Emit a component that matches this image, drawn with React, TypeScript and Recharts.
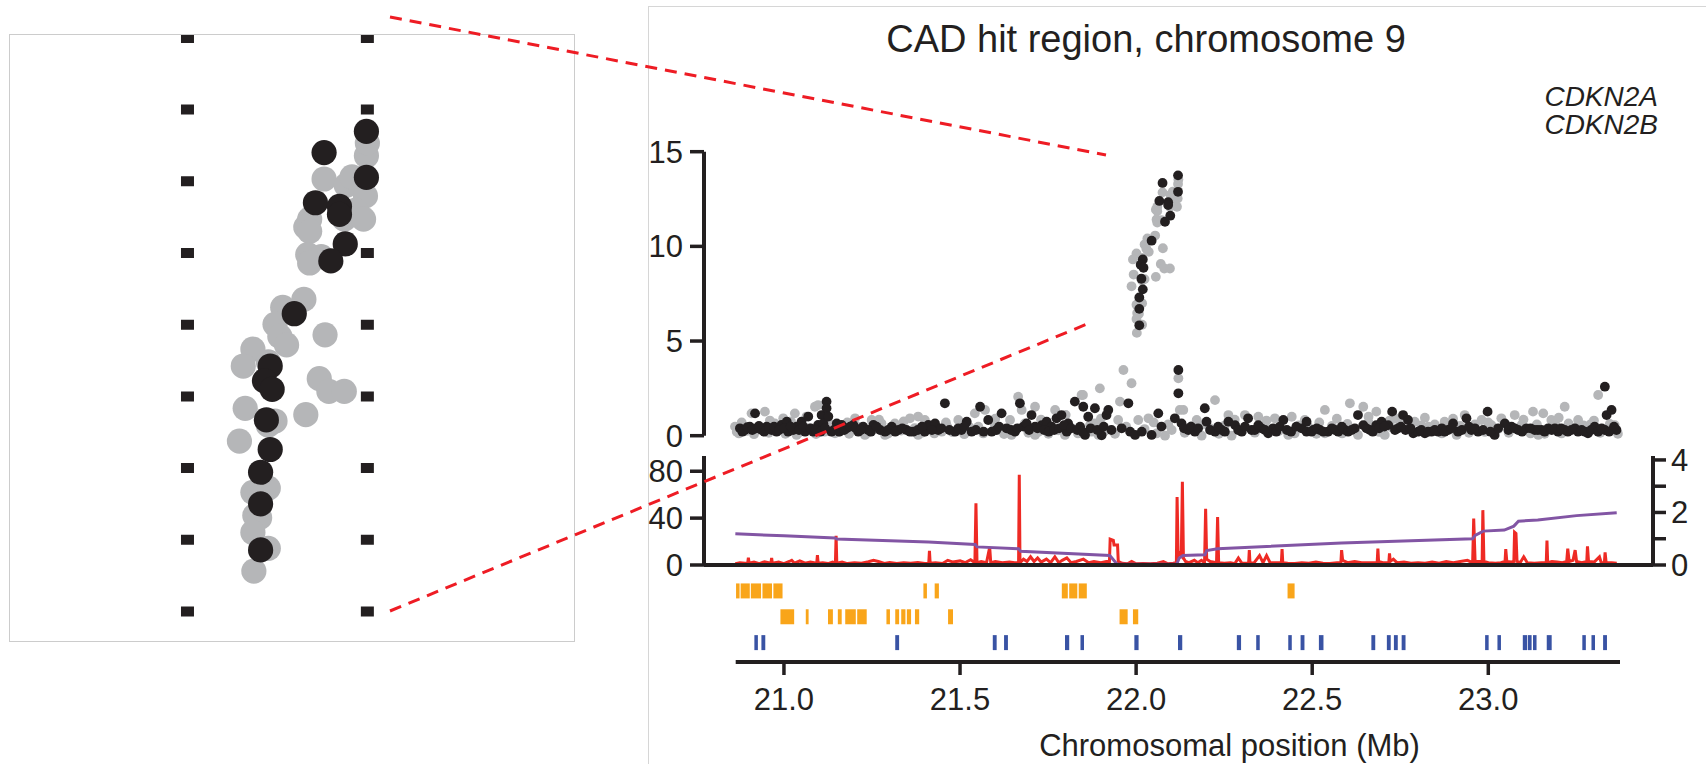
import {
  ScatterChart,
  ComposedChart,
  Scatter,
  Line,
  XAxis,
  YAxis,
  ReferenceLine,
  ReferenceArea,
} from 'recharts';

const PAGE_W = 1706;
const PAGE_H = 764;
const FONT = '"Liberation Sans", Arial, Helvetica, sans-serif';
const INK = '#231f20';
const GRAY = '#b5b6b8';
const RED = '#ee2a24';
const PURPLE = '#8255a4';
const ORANGE = '#f9a51a';
const BLUE = '#3953a4';
const DASH_RED = '#ee1c24';

// -log10 P association signal, peak region (x in Mb)
const peakBlack: [number, number][] = [
  [22.119, 13.75], [22.075, 13.35], [22.119, 12.88], [22.066, 12.4], [22.091, 12.33],
  [22.091, 12.18], [22.097, 11.62], [22.082, 11.3], [22.044, 10.3], [22.019, 9.31],
  [22.013, 9.03], [22.021, 8.87], [22.015, 8.29], [22.019, 7.73], [22.009, 7.3],
  [22.009, 6.7], [22.009, 5.83], [22.12, 3.47], [22.12, 2.24],
];
const peakGray: [number, number][] = [
  [22.119, 13.29], [22.12, 13.53], [22.075, 12.85], [22.098, 12.73], [22.118, 12.53],
  [22.104, 12.89], [22.108, 12.26], [22.06, 12.09], [22.096, 12.09], [22.116, 12.09],
  [22.056, 11.94], [22.06, 11.86], [22.058, 11.42], [22.072, 11.38], [22.06, 11.26],
  [22.054, 10.57], [22.032, 10.42], [22.024, 10.1], [22.076, 9.9], [22.029, 9.87],
  [22.036, 9.71], [22.001, 9.63], [22.017, 9.39], [21.991, 9.31], [22.07, 9.07],
  [22.08, 8.83], [22.096, 8.83], [21.993, 8.51], [22.056, 8.39], [22.024, 8.27],
  [22.017, 8.19], [21.987, 7.89], [22.017, 7.0], [22.001, 6.92], [22.003, 6.48],
  [22.008, 6.44], [22.001, 6.16], [22.017, 5.86], [22.002, 5.43], [22.12, 3.03],
  [22.124, 1.36], [21.964, 3.47], [21.987, 2.77], [21.897, 2.5], [21.849, 2.15],
];

// background SNPs across the window
const bgBlack: [number, number][] = [
  [20.875, 0.39], [20.889, 0.3], [20.903, 0.48], [20.918, 1.18], [20.922, 0.39], [20.937, 0.3],
  [20.951, 0.48], [20.965, 0.3], [20.979, 0.21], [20.993, 0.57], [21.008, 0.74], [21.012, 0.21],
  [21.026, 0.3], [21.036, 0.48], [21.05, 0.74], [21.06, 0.21], [21.069, 1.01], [21.083, 0.21],
  [21.097, 0.57], [21.107, 1.09], [21.112, 0.65], [21.121, 1.8], [21.121, 1.45], [21.126, 1.01],
  [21.135, 0.21], [21.15, 0.65], [21.164, 0.57], [21.178, 0.39], [21.197, 0.57], [21.211, 0.21],
  [21.225, 0.48], [21.239, 0.3], [21.254, 0.57], [21.273, 0.3], [21.287, 0.21], [21.306, 0.48],
  [21.325, 0.3], [21.348, 0.3], [21.367, 0.21], [21.4, 0.21], [21.41, 0.57], [21.429, 0.65],
  [21.438, 0.3], [21.457, 1.71], [21.486, 0.21], [21.504, 0.3], [21.519, 0.74], [21.533, 0.21],
  [21.557, 1.53], [21.58, 0.83], [21.59, 0.21], [21.618, 1.18], [21.632, 0.39], [21.656, 0.21],
  [21.67, 1.71], [21.68, 0.48], [21.689, 0.65], [21.703, 1.09], [21.713, 0.48], [21.732, 0.56],
  [21.746, 0.74], [21.76, 0.48], [21.774, 0.92], [21.788, 1.09], [21.803, 0.21], [21.807, 0.65],
  [21.826, 1.8], [21.841, 0.48], [21.85, 1.53], [21.855, 0.04], [21.864, 1.0], [21.883, 1.45],
  [21.902, 0.02], [21.916, 1.09], [21.921, 1.36], [21.959, 0.39], [21.978, 1.71], [21.983, 0.21],
  [21.997, 0.04], [22.016, 0.21], [22.044, 0.04], [22.063, 1.18], [22.072, 0.48], [22.11, 0.92],
  [22.129, 0.65], [22.148, 0.3], [22.167, 0.21], [22.195, 1.45], [22.2, 0.74], [22.224, 0.21],
  [22.243, 0.3], [22.262, 0.74], [22.281, 0.56], [22.3, 0.21], [22.318, 0.92], [22.328, 0.3],
  [22.356, 0.39], [22.375, 0.13], [22.389, 0.39], [22.418, 0.83], [22.47, 0.39], [22.484, 0.21],
  [22.503, 0.3], [22.484, 0.74], [22.498, 0.21], [22.522, 0.3], [22.545, 0.21], [22.574, 0.21],
  [22.593, 0.3], [22.621, 0.39], [22.63, 1.09], [22.645, 0.56], [22.664, 0.3], [22.682, 0.56],
  [22.697, 0.74], [22.716, 0.56], [22.727, 1.27], [22.744, 0.39], [22.758, 1.09], [22.772, 0.83],
  [22.787, 0.13], [22.801, 0.21], [22.82, 0.13], [22.839, 0.21], [22.858, 0.21], [22.886, 0.3],
  [22.9, 0.65], [22.914, 0.21], [22.938, 0.92], [22.952, 0.3], [22.971, 0.21], [22.998, 1.27],
  [23.018, 0.04], [23.047, 0.65], [23.066, 0.48], [23.085, 0.3], [23.108, 0.39], [23.132, 0.3],
  [23.151, 0.3], [23.17, 0.39], [23.198, 0.21], [23.217, 0.3], [23.236, 0.3], [23.255, 0.21],
  [23.283, 0.13], [23.302, 0.48], [23.331, 2.59], [23.336, 1.09], [23.35, 1.36], [23.364, 0.3],
  [23.331, 0.3],
  [20.882, 0.21], [20.896, 0.45], [20.91, 0.3], [20.929, 0.52], [20.944, 0.21], [20.958, 0.39],
  [20.972, 0.48], [20.986, 0.3], [21.0, 0.39], [21.019, 0.48], [21.043, 0.3], [21.055, 0.48],
  [21.076, 0.39], [21.09, 0.3], [21.104, 0.21], [21.117, 0.39], [21.142, 0.3], [21.157, 0.21],
  [21.171, 0.3], [21.188, 0.48], [21.204, 0.39], [21.218, 0.3], [21.247, 0.21], [21.263, 0.48],
  [21.296, 0.3], [21.316, 0.21], [21.336, 0.39], [21.358, 0.21], [21.38, 0.3], [21.392, 0.48],
  [21.42, 0.3], [21.447, 0.39], [21.47, 0.3], [21.495, 0.39], [21.512, 0.48], [21.545, 0.3],
  [21.567, 0.21], [21.603, 0.3], [21.611, 0.48], [21.645, 0.3], [21.663, 0.39], [21.696, 0.3],
  [21.72, 0.39], [21.739, 0.3], [21.752, 0.21], [21.767, 0.3], [21.781, 0.39], [21.795, 0.56],
  [21.815, 0.39], [21.833, 0.3], [21.848, 0.21], [21.871, 0.39], [21.89, 0.3], [21.908, 0.48],
  [21.93, 0.3], [22.136, 0.39], [22.156, 0.48], [22.176, 0.39], [22.21, 0.3], [22.233, 0.48],
  [22.252, 0.21], [22.29, 0.3], [22.309, 0.48], [22.337, 0.3], [22.347, 0.56], [22.366, 0.3],
  [22.398, 0.21], [22.408, 0.48], [22.428, 0.3], [22.44, 0.21], [22.455, 0.48], [22.513, 0.39],
  [22.532, 0.21], [22.556, 0.39], [22.565, 0.3], [22.584, 0.48], [22.602, 0.21], [22.612, 0.3],
  [22.654, 0.39], [22.672, 0.21], [22.69, 0.39], [22.705, 0.48], [22.735, 0.3], [22.752, 0.48],
  [22.765, 0.3], [22.779, 0.39], [22.81, 0.3], [22.829, 0.21], [22.848, 0.3], [22.868, 0.39],
  [22.876, 0.21], [22.895, 0.39], [22.925, 0.3], [22.945, 0.48], [22.962, 0.39], [22.985, 0.3],
  [23.006, 0.21], [23.028, 0.39], [23.057, 0.3], [23.075, 0.39], [23.096, 0.21], [23.12, 0.39],
  [23.141, 0.3], [23.16, 0.21], [23.18, 0.3], [23.189, 0.39], [23.207, 0.39], [23.226, 0.21],
  [23.246, 0.39], [23.265, 0.3], [23.274, 0.21], [23.292, 0.3], [23.312, 0.21], [23.322, 0.39],
  [23.343, 0.21], [23.357, 0.48],
];
const bgGray: [number, number][] = [
  [20.861, 0.48], [20.866, 0.21], [20.908, 1.18], [20.946, 1.27], [20.974, 0.65], [20.998, 0.92],
  [21.031, 1.18], [21.036, 0.04], [21.064, 1.01], [21.088, 1.53], [21.097, 1.62], [21.116, 0.21],
  [21.145, 0.13], [21.168, 0.48], [21.202, 0.92], [21.23, 0.04], [21.249, 0.83], [21.277, 0.65],
  [21.287, 0.04], [21.315, 0.65], [21.358, 0.92], [21.381, 1.01], [21.381, 0.04], [21.4, 0.83],
  [21.419, 0.48], [21.448, 0.21], [21.495, 0.83], [21.542, 1.18], [21.552, 0.48], [21.571, 1.36],
  [21.599, 0.57], [21.642, 0.83], [21.646, 0.04], [21.665, 2.06], [21.675, 1.36], [21.684, 0.65],
  [21.713, 1.53], [21.713, 0.04], [21.77, 1.36], [21.798, 0.04], [21.845, 2.15], [21.874, 0.21],
  [21.883, 0.65], [21.893, 0.04], [21.954, 1.8], [21.949, 0.83], [22.006, 0.83], [22.035, 0.92],
  [22.082, 0.0], [22.101, 0.3], [22.134, 1.36], [22.172, 0.83], [22.186, 0.0], [22.224, 1.88],
  [22.262, 1.09], [22.271, 0.0], [22.309, 1.09], [22.347, 1.0], [22.394, 0.92], [22.432, 0.04],
  [22.442, 1.0], [22.479, 0.83], [22.536, 1.36], [22.536, 0.13], [22.607, 1.71], [22.645, 1.53],
  [22.682, 1.27], [22.63, 0.04], [22.706, 0.04], [22.735, 0.92], [22.791, 0.74], [22.876, 0.74],
  [22.91, 0.04], [22.933, 1.09], [22.981, 0.83], [23.009, 0.56], [23.037, 0.92], [23.075, 1.09],
  [23.127, 1.27], [23.142, 0.04], [23.156, 1.18], [23.179, 0.83], [23.217, 1.53], [23.255, 0.83],
  [23.312, 2.15], [23.359, 0.56],
  [20.872, 0.12], [20.894, 0.25], [20.915, 0.08], [20.931, 0.42], [20.957, 0.15], [20.984, 0.33],
  [21.004, 0.1], [21.021, 0.52], [21.044, 0.18], [21.072, 0.4], [21.091, 0.09], [21.108, 0.31],
  [21.133, 0.6], [21.158, 0.22], [21.185, 0.1], [21.214, 0.46], [21.236, 0.14], [21.262, 0.38],
  [21.296, 0.11], [21.333, 0.27], [21.371, 0.4], [21.392, 0.16], [21.427, 0.12], [21.463, 0.5],
  [21.478, 0.19], [21.512, 0.08], [21.527, 0.45], [21.566, 0.12], [21.608, 0.3], [21.625, 0.09],
  [21.661, 0.36], [21.694, 0.15], [21.722, 0.2], [21.751, 0.1], [21.779, 0.28], [21.816, 0.41],
  [21.835, 0.12], [21.869, 0.55], [21.911, 0.25], [21.94, 0.1], [21.972, 0.48], [22.024, 0.35],
  [22.058, 0.12], [22.091, 0.6], [22.138, 0.15], [22.158, 0.5], [22.21, 0.38], [22.235, 0.1],
  [22.252, 0.55], [22.29, 0.3], [22.337, 0.16], [22.365, 0.48], [22.405, 0.25], [22.45, 0.12],
  [22.462, 0.55], [22.49, 0.45], [22.512, 0.1], [22.556, 0.52], [22.585, 0.12], [22.6, 0.62],
  [22.66, 0.7], [22.69, 0.2], [22.725, 0.45], [22.75, 0.62], [22.78, 0.38], [22.81, 0.55],
  [22.83, 0.48], [22.848, 0.6], [22.868, 0.12], [22.895, 0.45], [22.92, 0.52], [22.945, 0.15],
  [22.962, 0.6], [22.99, 0.2], [23.028, 0.35], [23.058, 0.15], [23.095, 0.58], [23.12, 0.12],
  [23.138, 0.6], [23.16, 0.1], [23.19, 0.6], [23.208, 0.12], [23.228, 0.65], [23.246, 0.4],
  [23.27, 0.55], [23.29, 0.6], [23.318, 0.15], [23.345, 0.62], [23.368, 0.1],
  [20.88, 0.7], [20.96, 0.8], [21.02, 0.75], [21.18, 0.7], [21.27, 0.85], [21.34, 0.75],
  [21.46, 0.7], [21.6, 0.9], [21.73, 0.85], [21.8, 1.1], [21.9, 0.9], [22.05, 0.7],
  [22.19, 0.6], [22.28, 0.85], [22.37, 0.8], [22.52, 0.7], [22.57, 0.9], [22.66, 1.0],
  [22.72, 0.8], [22.82, 0.95], [22.9, 0.9], [23.0, 0.7], [23.1, 0.85], [23.2, 0.95], [23.3, 0.8],
];

// recombination rate (cM/Mb, left axis)
const recombRate: [number, number][] = [
  [20.862, 1], [20.875, 2], [20.89, 1.5], [20.897, 1.5], [20.899, 6.3], [20.901, 1.5], [20.915, 2.5],
  [20.93, 1.2], [20.945, 2.8], [20.963, 1.5], [20.965, 6], [20.967, 1.5], [20.985, 2.5], [21.0, 1.2],
  [21.015, 3], [21.022, 4], [21.03, 1.5], [21.045, 3.5], [21.06, 1.5], [21.075, 2.5], [21.093, 1.5],
  [21.095, 8.4], [21.097, 1.5], [21.11, 2], [21.125, 1.2], [21.138, 2.5], [21.146, 1.5], [21.148, 25],
  [21.15, 1.5], [21.165, 2.5], [21.18, 1.2], [21.2, 2], [21.22, 1.5], [21.24, 2.8], [21.254, 4],
  [21.268, 3], [21.285, 1.3], [21.3, 2.2], [21.32, 1.2], [21.34, 2], [21.36, 1.5], [21.38, 2.2],
  [21.4, 1.3], [21.411, 1.5], [21.413, 12], [21.415, 1.5], [21.43, 2], [21.45, 1.3], [21.465, 4],
  [21.48, 2.5], [21.5, 3.5], [21.515, 2], [21.53, 4.5], [21.542, 2], [21.545, 52.6], [21.548, 2],
  [21.56, 3], [21.575, 2], [21.584, 15], [21.587, 2], [21.6, 3], [21.62, 2], [21.64, 2.5],
  [21.655, 2], [21.666, 2], [21.668, 77], [21.67, 2], [21.68, 5], [21.69, 3], [21.7, 7], [21.71, 3],
  [21.72, 6], [21.73, 2.5], [21.745, 5], [21.757, 2], [21.769, 7], [21.78, 2], [21.79, 4],
  [21.803, 6], [21.815, 2], [21.83, 3], [21.85, 5], [21.865, 2], [21.88, 3], [21.9, 2], [21.915, 3],
  [21.924, 3], [21.926, 22], [21.935, 21], [21.937, 17], [21.947, 17], [21.949, 3], [21.96, 1.5],
  [21.975, 1], [21.987, 3], [22.0, 1], [22.02, 1.2], [22.04, 1], [22.06, 1.5], [22.077, 3],
  [22.09, 1], [22.105, 1.5], [22.114, 2], [22.116, 58], [22.119, 8], [22.123, 10], [22.128, 8],
  [22.131, 71], [22.134, 6], [22.14, 3], [22.15, 2], [22.165, 4], [22.175, 2], [22.185, 4],
  [22.194, 2], [22.197, 48], [22.2, 5], [22.21, 3], [22.228, 2], [22.231, 41], [22.234, 2],
  [22.25, 1.5], [22.268, 2], [22.28, 1.2], [22.29, 6], [22.3, 1.5], [22.319, 1.5], [22.321, 12.7],
  [22.323, 1.5], [22.335, 2], [22.35, 8], [22.36, 2], [22.37, 8], [22.38, 2], [22.412, 2],
  [22.414, 13.6], [22.416, 2], [22.43, 1.5], [22.45, 1.2], [22.47, 2], [22.49, 1.5], [22.51, 2.5],
  [22.53, 1.5], [22.55, 1.2], [22.57, 2], [22.581, 2], [22.583, 12.7], [22.586, 4], [22.6, 2],
  [22.62, 3], [22.64, 2], [22.66, 2], [22.684, 2], [22.686, 14], [22.688, 3], [22.7, 2],
  [22.717, 2], [22.719, 10], [22.721, 3], [22.73, 5], [22.74, 2], [22.76, 2.5], [22.78, 1.5],
  [22.8, 2], [22.82, 1.5], [22.84, 2.5], [22.86, 1.5], [22.88, 3], [22.9, 2], [22.92, 3],
  [22.94, 4], [22.955, 2], [22.958, 39.6], [22.962, 3], [22.97, 3], [22.982, 3], [22.984, 46.8],
  [22.987, 3], [23.0, 2], [23.02, 1.5], [23.035, 2], [23.047, 3], [23.049, 13.6], [23.052, 3],
  [23.065, 2.5], [23.072, 3], [23.074, 28], [23.078, 27], [23.081, 3], [23.09, 2], [23.1, 7],
  [23.11, 2], [23.13, 1.5], [23.15, 2], [23.164, 2], [23.166, 20.8], [23.168, 2], [23.18, 3],
  [23.195, 2.5], [23.21, 2], [23.222, 3], [23.225, 14], [23.229, 3], [23.24, 4], [23.246, 12.7],
  [23.25, 3], [23.265, 2], [23.279, 3], [23.281, 15.9], [23.284, 3], [23.3, 2.5], [23.315, 7],
  [23.32, 2], [23.329, 2], [23.331, 10.7], [23.334, 2], [23.35, 2], [23.364, 1.5],
];

// cumulative genetic distance (cM, right axis)
const geneticMap: [number, number][] = [
  [20.862, 1.19], [21.0, 1.11], [21.145, 1.03], [21.15, 0.99], [21.41, 0.875], [21.543, 0.78],
  [21.548, 0.69], [21.666, 0.62], [21.672, 0.52], [21.925, 0.36], [21.945, 0.04], [22.115, 0.03],
  [22.122, 0.27], [22.133, 0.36], [22.195, 0.39], [22.2, 0.55], [22.231, 0.62], [22.583, 0.84],
  [22.955, 1.0], [22.962, 1.13], [22.985, 1.29], [23.045, 1.33], [23.072, 1.48], [23.085, 1.67],
  [23.14, 1.71], [23.25, 1.88], [23.364, 1.99],
];

// annotation tracks: [start, end] in Mb
const orangeTop: [number, number][] = [
  [20.864, 20.874], [20.877, 20.903], [20.906, 20.935], [20.939, 20.966], [20.97, 20.996],
  [21.396, 21.406], [21.428, 21.44], [21.789, 21.806], [21.81, 21.833], [21.837, 21.86],
  [22.43, 22.45],
];
const orangeMid: [number, number][] = [
  [20.99, 21.029], [21.062, 21.07], [21.125, 21.139], [21.153, 21.164], [21.174, 21.204],
  [21.208, 21.235], [21.291, 21.301], [21.316, 21.327], [21.333, 21.345], [21.349, 21.361],
  [21.372, 21.384], [21.466, 21.48], [21.953, 21.976], [21.991, 22.006],
];
const blueGenes: [number, number][] = [
  [20.916, 20.926], [20.936, 20.947], [21.316, 21.327], [21.593, 21.604], [21.625, 21.636],
  [21.798, 21.81], [21.842, 21.852], [21.995, 22.007], [22.119, 22.131], [22.286, 22.298],
  [22.341, 22.351], [22.432, 22.442], [22.467, 22.478], [22.519, 22.532], [22.668, 22.679],
  [22.712, 22.723], [22.732, 22.743], [22.754, 22.765], [22.991, 23.001], [23.026, 23.036],
  [23.098, 23.11], [23.112, 23.123], [23.127, 23.137], [23.166, 23.18], [23.267, 23.277],
  [23.293, 23.303], [23.326, 23.337],
];

const xTicks = [21, 21.5, 22, 22.5, 23];
const assocTicks = [0, 5, 10, 15];
const rateTicks = [0, 40, 80];
const mapTicks = [0, 1, 2, 3, 4];
// boundaries of the associated interval
const intervalBounds = [21.933, 22.12];
const geneLabels = ['CDKN2A', 'CDKN2B'];

const toPts = (arr: [number, number][]) => arr.map(([x, y]) => ({ x, y }));

const axisLine = { stroke: INK, strokeWidth: 4 };
const tickLine = { stroke: INK, strokeWidth: 3.5 };
const tickFont = { fill: INK, fontSize: 31, fontFamily: FONT };

const layer = { position: 'absolute' as const, left: 0, top: 0 };

// fixed-radius dots
const dot = (r: number, color: string) => (p: any) =>
  p.cx == null || p.cy == null ? <g /> : <circle cx={p.cx} cy={p.cy} r={r} fill={color} />;

// dotted guide runs (page px) for the interval boundaries
const dotRuns: [number, number, number][] = [
  [89, 451, 25.7],
  [463, 545, 26],
  [585, 640, 26],
];

// dashed connectors from the inset to the main panel
const connectors = [
  [390, 17, 1106, 155],
  [390, 611, 1092, 322],
];

const trackRows: { genes: [number, number][]; row: number; color: string }[] = [
  { genes: orangeTop, row: 3, color: ORANGE },
  { genes: orangeMid, row: 2, color: ORANGE },
  { genes: blueGenes, row: 1, color: BLUE },
];

export default function App() {
  const black = toPts([...bgBlack, ...peakBlack]);
  const gray = toPts([...bgGray, ...peakGray]);
  // anchor points so the track chart has data for its scales
  const trackAnchors = trackRows.flatMap((t) => t.genes.map(([s]) => ({ x: s, y: t.row })));

  return (
    <div
      style={{
        position: 'absolute',
        left: 0,
        top: 0,
        width: PAGE_W,
        height: PAGE_H,
        background: '#fff',
        overflow: 'hidden',
        fontFamily: FONT,
        color: INK,
      }}
    >
      {/* frame of the main figure */}
      <div
        style={{
          position: 'absolute',
          left: 648,
          top: 6,
          width: PAGE_W - 648,
          height: PAGE_H - 6,
          borderTop: '1px solid #d6d6d6',
          borderLeft: '1px solid #d6d6d6',
        }}
      />

      {/* magnified inset of the peak */}
      <div
        style={{
          position: 'absolute',
          left: 9,
          top: 34,
          width: 566,
          height: 608,
          border: '1px solid #cccccc',
          boxSizing: 'border-box',
        }}
      >
        <ScatterChart width={564} height={606} margin={{ top: 0, right: 0, bottom: 0, left: 0 }}>
          <XAxis type="number" dataKey="x" domain={[21.7485, 22.3348]} allowDataOverflow hide />
          <YAxis type="number" dataKey="y" domain={[4.106, 15.575]} allowDataOverflow hide />
          {intervalBounds.map((b) => (
            <ReferenceLine
              key={b}
              segment={[
                { x: b, y: 15.575 },
                { x: b, y: 4.106 },
              ]}
              stroke={INK}
              strokeWidth={13}
              strokeDasharray="10 61.7"
              strokeDashoffset={2.1}
              ifOverflow="visible"
            />
          ))}
          <Scatter data={toPts(peakGray)} shape={dot(12.6, GRAY)} isAnimationActive={false} />
          <Scatter data={toPts(peakBlack)} shape={dot(12.6, INK)} isAnimationActive={false} />
        </ScatterChart>
      </div>

      {/* association panel */}
      <div style={layer}>
        <ScatterChart width={PAGE_W} height={PAGE_H} margin={{ top: 151.7, right: 86, bottom: 328.3, left: 624 }}>
          <XAxis type="number" dataKey="x" domain={[20.773, 23.374]} hide />
          <YAxis
            type="number"
            dataKey="y"
            domain={[0, 15]}
            ticks={assocTicks}
            width={80}
            axisLine={axisLine}
            tickLine={tickLine}
            tickSize={14}
            tickMargin={7}
            tick={tickFont}
          />
          <Scatter data={gray} shape={dot(4.9, GRAY)} isAnimationActive={false} />
          <Scatter data={black} shape={dot(4.9, INK)} isAnimationActive={false} />
        </ScatterChart>
      </div>

      {/* recombination panel */}
      <div style={layer}>
        <ComposedChart width={PAGE_W} height={PAGE_H} margin={{ top: 456, right: 3, bottom: 197, left: 624 }}>
          <XAxis
            type="number"
            dataKey="x"
            domain={[20.773, 23.467]}
            tick={false}
            tickLine={false}
            axisLine={axisLine}
            height={2}
            allowDataOverflow
          />
          <YAxis
            yAxisId="rate"
            type="number"
            domain={[0, 93]}
            ticks={rateTicks}
            width={80}
            axisLine={axisLine}
            tickLine={tickLine}
            tickSize={14}
            tickMargin={7}
            tick={tickFont}
            allowDataOverflow
          />
          <YAxis
            yAxisId="map"
            orientation="right"
            type="number"
            domain={[0, 4.15]}
            ticks={mapTicks}
            tickFormatter={(v: number) => (v % 2 === 0 ? String(v) : '')}
            width={50}
            axisLine={axisLine}
            tickLine={tickLine}
            tickSize={13}
            tickMargin={5}
            tick={tickFont}
            allowDataOverflow
          />
          <Line
            yAxisId="rate"
            data={toPts(recombRate)}
            dataKey="y"
            type="linear"
            stroke={RED}
            strokeWidth={3}
            dot={false}
            isAnimationActive={false}
          />
          <Line
            yAxisId="map"
            data={toPts(geneticMap)}
            dataKey="y"
            type="linear"
            stroke={PURPLE}
            strokeWidth={3}
            dot={false}
            isAnimationActive={false}
          />
        </ComposedChart>
      </div>

      {/* gene tracks and position axis */}
      <div style={layer}>
        <ScatterChart width={PAGE_W} height={PAGE_H} margin={{ top: 578, right: 86, bottom: 42, left: 735.7 }}>
          <XAxis
            type="number"
            dataKey="x"
            domain={[20.863, 23.374]}
            ticks={xTicks}
            interval={0}
            tickFormatter={(v: number) => v.toFixed(1)}
            height={60}
            axisLine={axisLine}
            tickLine={tickLine}
            tickSize={13}
            tickMargin={13}
            tick={tickFont}
          />
          <YAxis type="number" dataKey="y" domain={[0.25, 3.5]} hide />
          <Scatter data={trackAnchors} shape={dot(0, 'none')} isAnimationActive={false} />
          {trackRows.map((t) =>
            t.genes.map(([s, e], i) => (
              <ReferenceArea
                key={`${t.row}-${i}`}
                x1={s}
                x2={e}
                y1={t.row - 0.29}
                y2={t.row + 0.29}
                fill={t.color}
                fillOpacity={1}
                stroke="none"
              />
            ))
          )}
        </ScatterChart>
      </div>

      {/* dotted interval boundaries across all panels */}
      <div style={layer}>
        <ScatterChart width={PAGE_W} height={PAGE_H} margin={{ top: 0, right: 86, bottom: 0, left: 735.7 }}>
          <XAxis type="number" dataKey="x" domain={[20.863, 23.374]} hide />
          <YAxis type="number" dataKey="y" domain={[0, PAGE_H]} reversed hide />
          {intervalBounds.map((b) =>
            dotRuns.map(([y1, y2, gap]) => (
              <ReferenceLine
                key={`${b}-${y1}`}
                segment={[
                  { x: b, y: y1 },
                  { x: b, y: y2 },
                ]}
                stroke={INK}
                strokeWidth={4}
                strokeLinecap="round"
                strokeDasharray={`0 ${gap}`}
                ifOverflow="visible"
              />
            ))
          )}
        </ScatterChart>
      </div>

      <svg width={PAGE_W} height={PAGE_H} style={{ position: 'absolute', left: 0, top: 0 }}>
        {connectors.map(([x1, y1, x2, y2], i) => (
          <line
            key={i}
            x1={x1}
            y1={y1}
            x2={x2}
            y2={y2}
            stroke={DASH_RED}
            strokeWidth={3}
            strokeDasharray="12 8"
          />
        ))}
      </svg>

      <div
        style={{
          position: 'absolute',
          left: 1146,
          top: 20,
          transform: 'translateX(-50%)',
          whiteSpace: 'nowrap',
          fontSize: 38,
          lineHeight: '38px',
        }}
      >
        CAD hit region, chromosome 9
      </div>
      {geneLabels.map((g, i) => (
        <div
          key={g}
          style={{
            position: 'absolute',
            right: PAGE_W - 1658,
            top: 82.5 + i * 28,
            textAlign: 'right',
            fontStyle: 'italic',
            fontSize: 28,
            lineHeight: '28px',
            whiteSpace: 'nowrap',
          }}
        >
          {g}
        </div>
      ))}
      <div
        style={{
          position: 'absolute',
          left: 1229.5,
          top: 729.7,
          transform: 'translateX(-50%)',
          whiteSpace: 'nowrap',
          fontSize: 31,
          lineHeight: '31px',
        }}
      >
        Chromosomal position (Mb)
      </div>
    </div>
  );
}
